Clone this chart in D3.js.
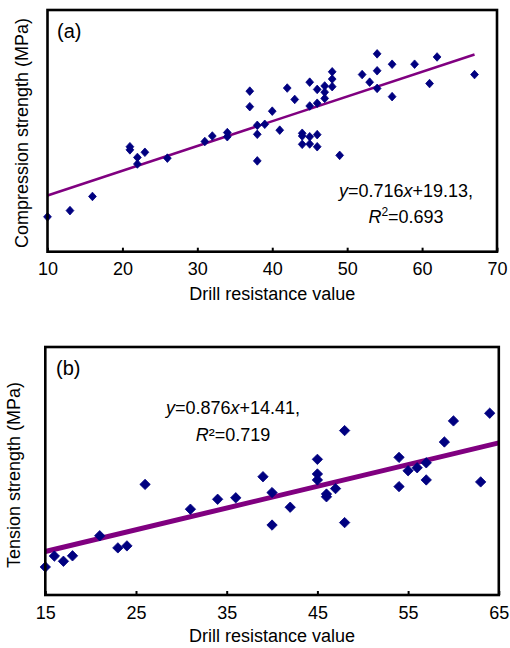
<!DOCTYPE html>
<html>
<head>
<meta charset="utf-8">
<script src="https://cdn.jsdelivr.net/npm/d3@7/dist/d3.min.js"></script>
<style>
  html, body { margin: 0; padding: 0; background: #ffffff; }
  svg { display: block; }
  text { font-family: "Liberation Sans", Arial, sans-serif; fill: #000; }
</style>
</head>
<body>
<svg id="chart" width="510" height="648"></svg>
<script>
// ---------- Panel (a): compression strength ----------
const drillA = [10,13,16,21,21,22,22,23,26,31,32,34,34,37,37,38,38,38,39,40,41,42,43,
  44,44,44,45,45,45,45,46,46,46,46,47,47,47,48,48,48,49,52,53,54,54,54,56,56,59,61,62,67];
const compressionA = [20.1,21.9,26.0,40.4,39.5,37.3,35.4,38.8,37.1,41.9,43.5,44.5,43.3,56.5,52.0,46.6,44.0,36.3,46.9,50.7,45.2,57.4,54.1,
  44.3,43.5,41.1,59.1,52.2,43.3,41.2,57.0,53.0,43.9,40.4,58.0,56.2,54.4,62.1,60.0,57.8,37.9,61.3,59.1,67.3,62.4,57.3,64.3,54.9,64.3,58.7,66.4,61.3];
const ticksA = [10,20,30,40,50,60,70];
const fitA = { slope: 0.716, intercept: 19.13, r2: "0.693", xFrom: 10, xTo: 67 };

// ---------- Panel (b): tension strength ----------
const drillB = [15,16,17,18,21,23,24,26,31,34,36,39,40,40,42,45,45,45,46,46,47,48,48,54,54,55,56,57,57,59,60,63,64];
const tensionB = [21.3,25.7,23.6,25.8,33.9,29.0,29.8,54.6,44.6,48.6,49.2,57.7,51.3,38.2,45.4,64.7,58.8,56.4,50.7,49.6,52.9,76.3,39.2,65.5,53.7,60.1,61.3,63.3,56.4,71.7,80.2,55.6,83.3];
const ticksB = [15,25,35,45,55,65];
const fitB = { slope: 0.876, intercept: 14.41, r2: "0.719", xFrom: 15, xTo: 65 };

const svg = d3.select("#chart");
svg.append("rect").attr("width", 510).attr("height", 648).attr("fill", "#fff");

function panel(cfg) {
  const x = d3.scaleLinear().domain(cfg.xDomain).range([cfg.left, cfg.right]);
  const y = d3.scaleLinear().domain(cfg.yDomain).range([cfg.bottom, cfg.top]);
  const g = svg.append("g");

  // regression line
  g.append("line")
    .attr("x1", x(cfg.fit.xFrom)).attr("y1", y(cfg.fit.slope * cfg.fit.xFrom + cfg.fit.intercept))
    .attr("x2", x(cfg.fit.xTo)).attr("y2", y(cfg.fit.slope * cfg.fit.xTo + cfg.fit.intercept))
    .attr("stroke", "#800080").attr("stroke-width", cfg.lineW);

  // diamonds
  const hw = cfg.hw, hh = cfg.hh;
  const diamond = `M0,${-hh}L${hw},0L0,${hh}L${-hw},0Z`;
  g.selectAll("path.pt").data(cfg.xs.map((v, i) => [v, cfg.ys[i]]))
    .join("path").attr("class", "pt")
    .attr("d", diamond)
    .attr("transform", d => `translate(${x(d[0])},${y(d[1])})`)
    .attr("fill", "#000080")
    .attr("stroke", "#000080").attr("stroke-width", 0.8).attr("stroke-linejoin", "round");

  // bottom axis ticks (inward) and labels
  const axis = d3.axisBottom(x).tickValues(cfg.ticks).tickSize(-4).tickPadding(11).tickFormat(d3.format("d"));
  const ag = g.append("g").attr("transform", `translate(0,${cfg.bottom})`).call(axis);
  ag.select(".domain").remove();
  ag.selectAll(".tick line").attr("stroke", "#000").attr("stroke-width", 2);
  ag.selectAll(".tick text").attr("font-size", 18).attr("fill", "#000")
    .attr("font-family", "Liberation Sans, Arial, sans-serif");

  // frame
  g.append("rect")
    .attr("x", cfg.left).attr("y", cfg.top)
    .attr("width", cfg.right - cfg.left).attr("height", cfg.bottom - cfg.top)
    .attr("fill", "none").attr("stroke", "#000").attr("stroke-width", 2.6);

  // panel tag
  g.append("text").attr("x", cfg.tagX).attr("y", cfg.tagY).attr("font-size", 20).text(cfg.tag);

  // axis titles
  g.append("text").attr("x", (cfg.left + cfg.right) / 2).attr("y", cfg.xTitleY)
    .attr("text-anchor", "middle").attr("font-size", 18).text("Drill resistance value");
  g.append("text")
    .attr("transform", `translate(${cfg.yTitleX},${cfg.yTitleCY}) rotate(-90)`)
    .attr("text-anchor", "middle").attr("font-size", 18).text(cfg.yTitle);

  // equation
  const eq = g.append("text").attr("x", cfg.eqX).attr("y", cfg.eqY)
    .attr("text-anchor", "middle").attr("font-size", 18);
  eq.append("tspan").attr("font-style", "italic").text("y");
  eq.append("tspan").text("=" + cfg.fit.slope.toFixed(3));
  eq.append("tspan").attr("font-style", "italic").text("x");
  eq.append("tspan").text("+" + cfg.fit.intercept.toFixed(2) + ",");

  const r = g.append("text").attr("x", cfg.eqX).attr("y", cfg.eqY + cfg.eqGap)
    .attr("text-anchor", "middle").attr("font-size", 18);
  r.append("tspan").attr("font-style", "italic").text("R");
  if (cfg.supStyle === "tspan") {
    r.append("tspan").attr("font-size", 12).attr("dy", -7).text("2");
    r.append("tspan").attr("dy", 7).text("=" + cfg.fit.r2);
  } else {
    r.append("tspan").text("\u00B2=" + cfg.fit.r2);
  }
}

panel({
  xs: drillA, ys: compressionA, ticks: ticksA, fit: fitA,
  xDomain: [10, 70], yDomain: [10, 80],
  left: 47.5, right: 497, top: 10, bottom: 251.7,
  hw: 3.9, hh: 4.3, lineW: 2.5,
  tag: "(a)", tagX: 57, tagY: 38,
  xTitleY: 300, yTitleX: 28, yTitleCY: 133,
  yTitle: "Compression strength (MPa)",
  eqX: 406, eqY: 197, eqGap: 26, supStyle: "tspan"
});

panel({
  xs: drillB, ys: tensionB, ticks: ticksB, fit: fitB,
  xDomain: [15, 65], yDomain: [10, 110],
  left: 45.3, right: 498.8, top: 347, bottom: 595,
  hw: 5.2, hh: 5.2, lineW: 5,
  tag: "(b)", tagX: 56, tagY: 375,
  xTitleY: 642, yTitleX: 20, yTitleCY: 475,
  yTitle: "Tension strength (MPa)",
  eqX: 233, eqY: 414, eqGap: 27, supStyle: "char"
});
</script>
</body>
</html>
